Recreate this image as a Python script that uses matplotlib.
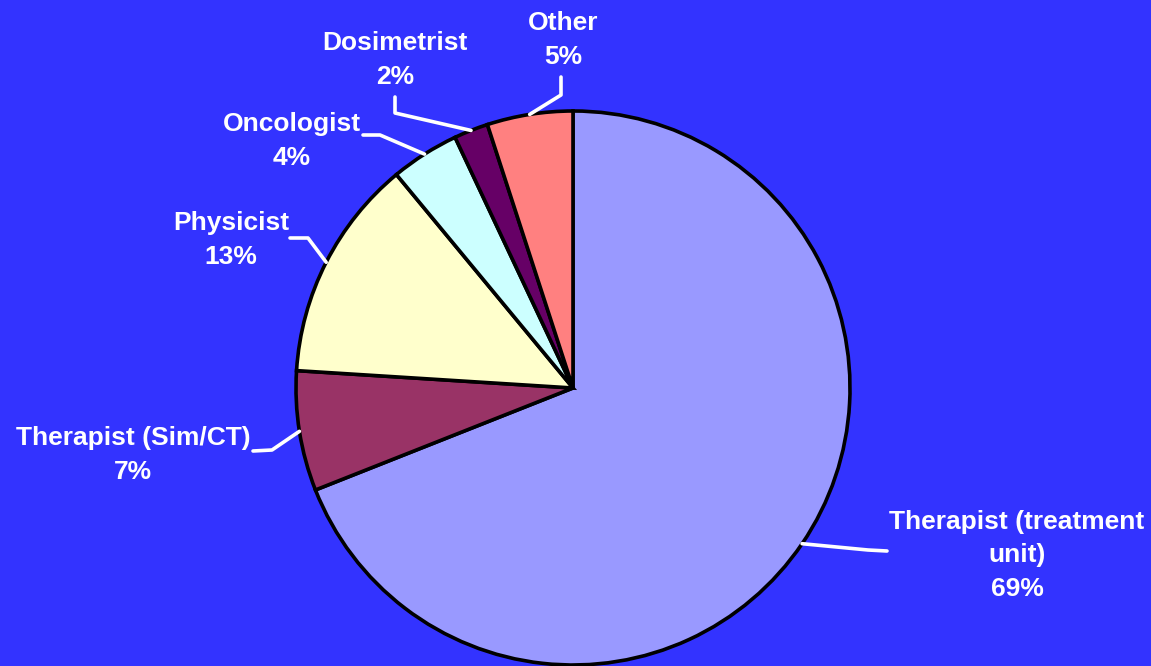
import numpy as np
import matplotlib.pyplot as plt

labels = ['Therapist (treatment\nunit)', 'Therapist (Sim/CT)', 'Physicist',
          'Oncologist', 'Dosimetrist', 'Other']
shares = [69, 7, 13, 4, 2, 5]
colors = ['#9999FF', '#993366', '#FFFFCC', '#CCFFFF', '#660066', '#FF8080']

# label layout (pixel coords, y from top): text center, elbow, line end
text_pos = [(1017, 555), (133, 455), (231, 240), (292, 141), (395, 60), (563, 40)]
elbows = [[(868, 550), (887, 551)],
          [(272, 450), (253, 451)],
          [(308, 238), (290, 238)],
          [(380, 135), (363, 135)],
          [(395, 113), (395, 97)],
          [(561, 95), (561, 77)]]

W, H = 1151, 666
cx, cy, r = 573, 388, 277

fig = plt.figure(figsize=(W / 100, H / 100), dpi=100)
fig.patch.set_facecolor('#3333FF')
ax = fig.add_axes([0, 0, 1, 1])

wedges, _ = ax.pie(shares, colors=colors, startangle=90, counterclock=False,
                   center=(cx, H - cy), radius=r, frame=True,
                   wedgeprops=dict(edgecolor='black', linewidth=2.6))
ax.set_xlim(0, W)
ax.set_ylim(0, H)
ax.set_aspect('equal')
ax.axis('off')

for w, lab, s, tp, el in zip(wedges, labels, shares, text_pos, elbows):
    mid = np.deg2rad((w.theta1 + w.theta2) / 2)
    x0 = cx + r * np.cos(mid)
    y0 = (H - cy) + r * np.sin(mid)
    xs = [x0] + [p[0] for p in el]
    ys = [y0] + [H - p[1] for p in el]
    ax.plot(xs, ys, color='white', lw=2.6, solid_capstyle='round', zorder=3)
    ax.text(tp[0], H - tp[1], f'{lab}\n{s}%', ha='center', va='center',
            color='white', fontsize=19, fontweight='bold',
            family='Liberation Sans', linespacing=1.5)

fig.savefig('out.png', dpi=100, facecolor=fig.get_facecolor())
